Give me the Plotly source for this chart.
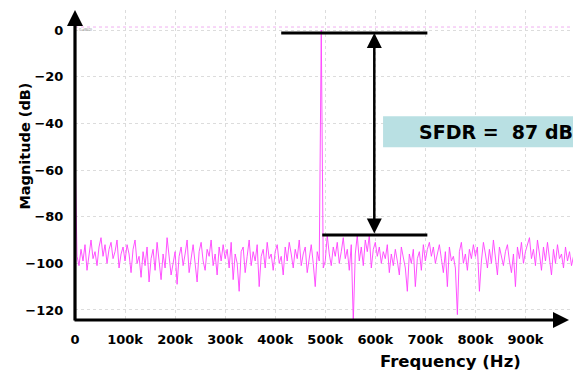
import plotly.graph_objects as go

# Spectrum samples every 4 kHz (0 .. 996 kHz)
step_hz = 4000
magnitude_db = [
    -50, -97, -101, -94, -99, -92, -103, -96, -90, -98, -95, -101, -93, -89, -97, -92, -100, -94, -91, -98, -95, -90, -102, -96, -93,
    -99, -92, -96, -104, -94, -90, -100, -97, -106, -95, -101, -93, -108, -98, -94, -103, -91, -99, -107, -96, -102, -89, -98, -105, -100,
    -95, -109, -97, -93, -101, -96, -90, -104, -98, -92, -100, -108, -95, -91, -99, -103, -94, -97, -90, -101, -96, -105, -93, -99, -92,
    -98, -94, -102, -91, -107, -96, -100, -112, -95, -93, -104, -97, -90, -101, -95, -99, -92, -110, -97, -94, -102, -91, -98, -96, -103,
    -95, -92, -100, -97, -105, -93, -99, -91, -96, -102, -94, -98, -90, -101, -96, -93, -104, -97, -92, -100, -110, -95, -99, 0, -102,
    -99, -88, -96, -101, -93, -97, -91, -100, -95, -89, -98, -94, -103, -92, -125, -96, -88, -99, -93, -101, -90, -95, -88, -102, -94,
    -91, -97, -93, -100, -95, -98, -92, -104, -96, -101, -94, -99, -105, -93, -97, -102, -112, -96, -100, -94, -110, -98, -95, -103, -92,
    -99, -94, -91, -97, -93, -100, -96, -92, -98, -104, -95, -110, -93, -99, -97, -102, -122, -95, -91, -100, -96, -103, -94, -98, -92,
    -97, -93, -112, -99, -91, -96, -102, -94, -100, -90, -98, -105, -93, -97, -101, -95, -92, -99, -104, -96, -110, -93, -98, -91, -100,
    -95, -92, -89, -98, -94, -101, -90, -96, -103, -93, -99, -91, -97, -105, -94, -100, -92, -98, -96, -102, -93, -99, -95, -101, -97,
]
freq_hz = [i * step_hz for i in range(len(magnitude_db))]

x_tick_vals = [0, 100000, 200000, 300000, 400000, 500000, 600000, 700000, 800000, 900000]
x_tick_text = ["0", "100k", "200k", "300k", "400k", "500k", "600k", "700k", "800k", "900k"]
y_tick_vals = [0, -20, -40, -60, -80, -100, -120]

# SFDR annotation values
carrier_db = -1.3
spur_db = -87.9
sfdr_label = "SFDR =\u00a0\u00a087 dB"

FONT = "DejaVu Sans, Liberation Sans, Arial"

fig = go.Figure()
fig.add_trace(go.Scatter(x=freq_hz, y=magnitude_db, mode="lines",
                         line=dict(color="#ff40ff", width=0.9), showlegend=False))

bold = dict(family=FONT, size=13, color="black", weight="bold")

fig.update_layout(
    width=573, height=376,
    margin=dict(l=75, r=0, t=10, b=56),
    paper_bgcolor="white", plot_bgcolor="white",
    xaxis=dict(range=[0, 995000], tickvals=x_tick_vals, ticktext=x_tick_text,
               showgrid=True, gridcolor="#dcdcdc", griddash="dot", gridwidth=1,
               zeroline=False, showline=False, ticks="outside", ticklen=7,
               tickcolor="rgba(0,0,0,0)", tickfont=bold),
    yaxis=dict(range=[-124.3, 8.6], tickvals=y_tick_vals,
               showgrid=True, gridcolor="#dcdcdc", griddash="dot", gridwidth=1,
               zeroline=False, showline=False, ticks="outside", ticklen=8,
               tickcolor="rgba(0,0,0,0)", tickfont=bold),
)

# faint pink reference line near top
fig.add_shape(type="line", xref="x", yref="y", x0=0, x1=995000, y0=1.3, y1=1.3,
              line=dict(color="#f0b0f0", width=1, dash="dot"))
fig.add_annotation(x=3000, y=0.2, xref="x", yref="y", text="0 dB(0)", showarrow=False,
                   xanchor="left", font=dict(size=4, color="#888"))

# SFDR marker lines
fig.add_shape(type="line", xref="x", yref="y", x0=412000, x1=704000, y0=carrier_db, y1=carrier_db,
              line=dict(color="black", width=3))
fig.add_shape(type="line", xref="x", yref="y", x0=494000, x1=704000, y0=spur_db, y1=spur_db,
              line=dict(color="black", width=3))
fig.add_annotation(x=598000, y=carrier_db, ax=598000, ay=spur_db, xref="x", yref="y",
                   axref="x", ayref="y", showarrow=True, arrowside="end+start",
                   arrowhead=2, arrowsize=1.2, arrowwidth=2.5, arrowcolor="black", text="")

# SFDR label box
fig.add_shape(type="rect", xref="x", yref="y", x0=615500, x1=1010000, y0=-50.2, y1=-36.9,
              line=dict(width=0), fillcolor="#b9e0e3")
fig.add_annotation(x=0.686, y=-43.6, xref="paper", yref="y", text=sfdr_label, showarrow=False,
                   xanchor="left", yanchor="middle",
                   font=dict(family=FONT, size=19, color="black", weight="bold"))

# axis arrows
fig.add_annotation(x=0, y=1, xref="paper", yref="paper", ax=0, ay=312, axref="pixel", ayref="pixel",
                   showarrow=True, arrowhead=2, arrowsize=1, arrowwidth=3.2, arrowcolor="black", text="")
fig.add_annotation(x=0.992, y=0, xref="paper", yref="paper", ax=-496, ay=0, axref="pixel", ayref="pixel",
                   showarrow=True, arrowhead=2, arrowsize=1, arrowwidth=3.2, arrowcolor="black", text="")

# axis titles
fig.add_annotation(x=-0.1, y=0.56, xref="paper", yref="paper", text="Magnitude (dB)", textangle=-90,
                   showarrow=False, xanchor="center", yanchor="middle",
                   font=dict(family=FONT, size=14.5, color="black", weight="bold"))
fig.add_annotation(x=0.755, y=-0.135, xref="paper", yref="paper", text="Frequency (Hz)",
                   showarrow=False, xanchor="center", yanchor="middle",
                   font=dict(family=FONT, size=16.5, color="black", weight="bold"))

fig.write_html("out.html")
